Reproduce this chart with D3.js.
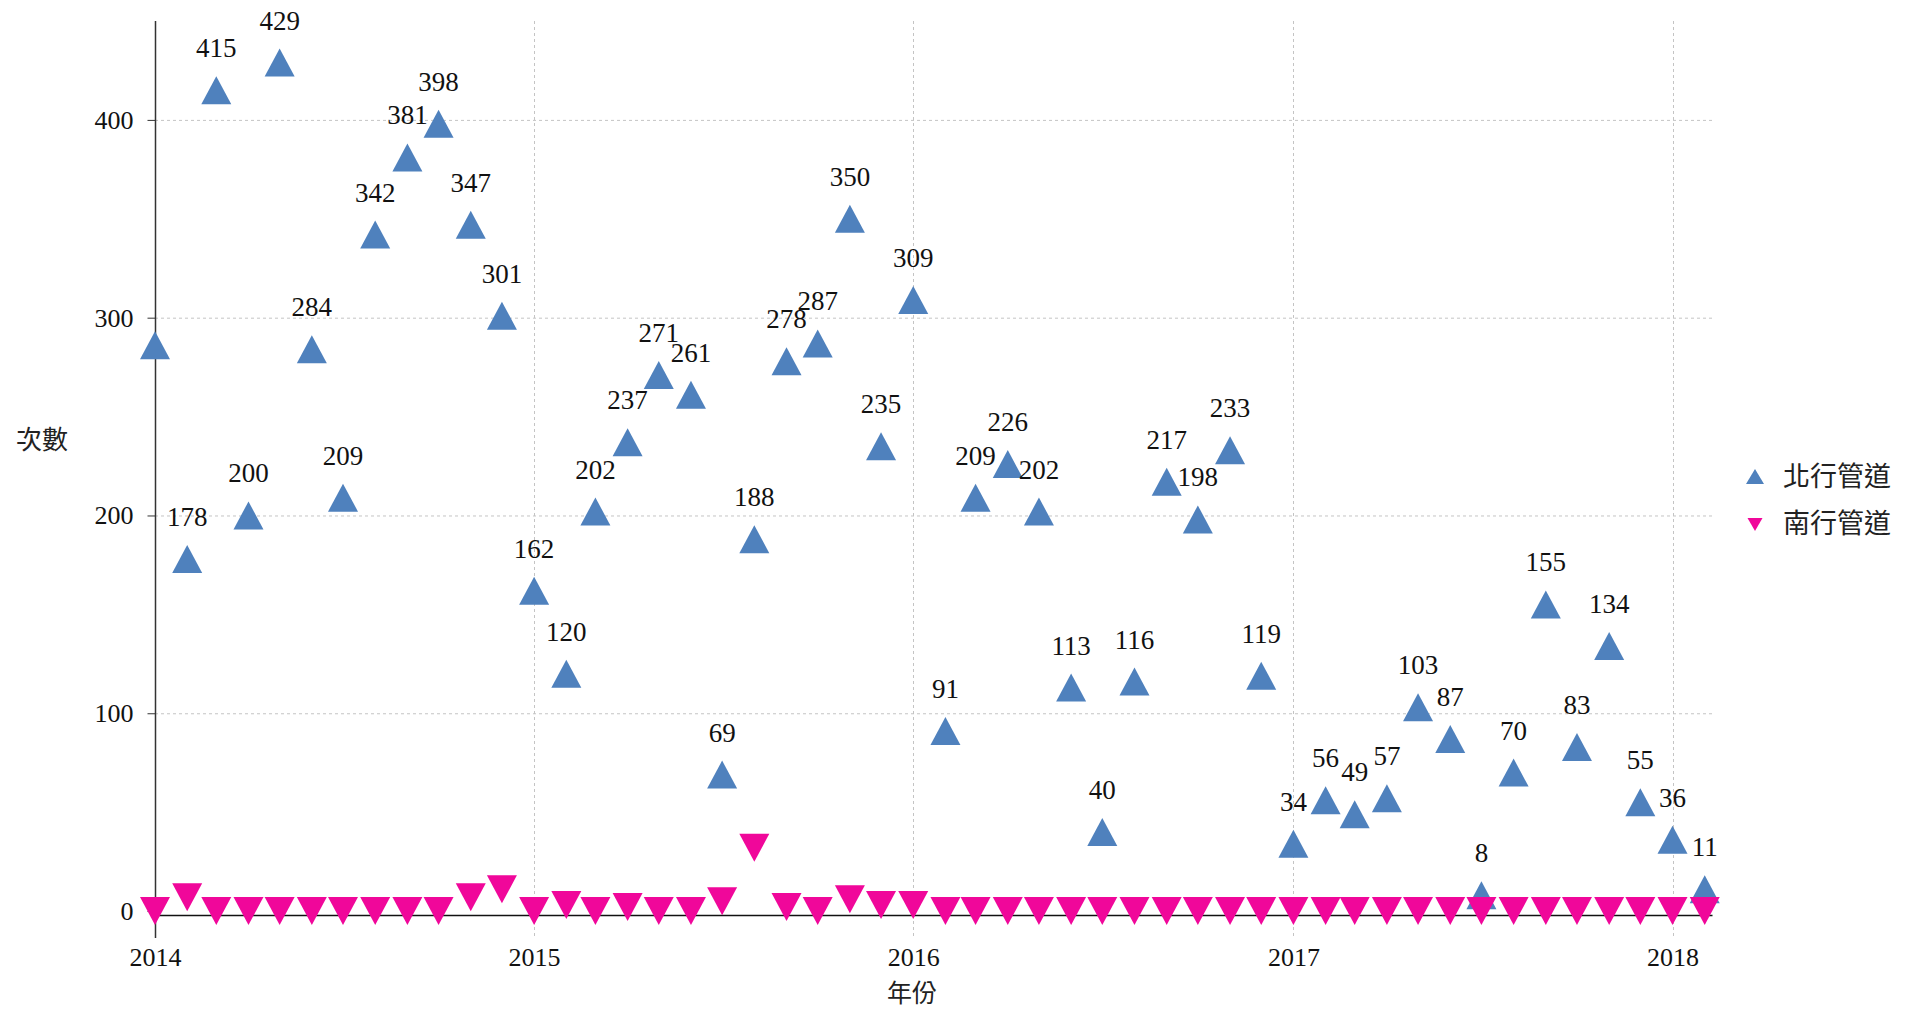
<!DOCTYPE html>
<html>
<head>
<meta charset="utf-8">
<script src="https://cdn.jsdelivr.net/npm/d3@7"></script>
<style>
  body { margin: 0; background: #fff; }
  .grid line { stroke: #c4c4c4; stroke-dasharray: 3,3; }
  .num { font-family: "Liberation Serif", "Times New Roman", serif; fill: #111; }
  .cjk { font-family: "Noto Sans CJK TC", "Noto Sans CJK SC", sans-serif; fill: #222; }
</style>
</head>
<body>
<svg id="chart"></svg>
<script>
// monthly points, 2014-01 .. 2018-02
var startMonth = [2014, 0];
var monthCount = 50;

var northValues = [286, 178, 415, 200, 429, 284, 209, 342, 381, 398, 347, 301,
                   162, 120, 202, 237, 271, 261, 69, 188, 278, 287, 350, 235,
                   309, 91, 209, 226, 202, 113, 40, 116, 217, 198, 233, 119,
                   34, 56, 49, 57, 103, 87, 8, 70, 155, 83, 134, 55,
                   36, 11];
var southValues = [0, 7, 0, 0, 0, 0, 0, 0, 0, 0, 7, 11,
                   0, 3, 0, 2, 0, 0, 5, 32, 2, 0, 6, 3,
                   3, 0, 0, 0, 0, 0, 0, 0, 0, 0, 0, 0,
                   0, 0, 0, 0, 0, 0, 0, 0, 0, 0, 0, 0,
                   0, 0];
var hiddenLabels = [0]; // first label is not shown in the original
var yTicks = [0, 100, 200, 300, 400];
var yearTicks = [2014, 2015, 2016, 2017, 2018];
var seriesNames = ["北行管道", "南行管道"];
var colors = ["#4f81bd", "#f0079a"];

var months = d3.range(monthCount).map(function (i) {
    return new Date(startMonth[0], startMonth[1] + i, 1);
});

var width = 1905, height = 1013;
var svg = d3.select("#chart").attr("width", width).attr("height", height);

var x = d3.scaleTime()
    .domain([new Date(2014, 0, 1), new Date(2018, 1, 8)])
    .range([155, 1712]);
var y = d3.scaleLinear().domain([-2, 450]).range([915, 21]);

var upTri = "M0,-14L15,14L-15,14Z";
var downTri = "M-15,-14L15,-14L0,14Z";

// grid
var grid = svg.append("g").attr("class", "grid");
grid.selectAll(".hg")
    .data(yTicks.filter(function (d) { return d > 0; }))
    .enter().append("line")
    .attr("x1", x.range()[0]).attr("x2", x.range()[1])
    .attr("y1", function (d) { return y(d) + 0.5; })
    .attr("y2", function (d) { return y(d) + 0.5; });
grid.selectAll(".vg")
    .data(yearTicks)
    .enter().append("line")
    .attr("x1", function (d) { return Math.round(x(new Date(d, 0, 1))) + 0.5; })
    .attr("x2", function (d) { return Math.round(x(new Date(d, 0, 1))) + 0.5; })
    .attr("y1", y.range()[1]).attr("y2", 938);

// y axis
var yAxis = svg.append("g")
    .attr("transform", "translate(" + (x.range()[0] + 0.5) + ",0)")
    .call(d3.axisLeft(y).tickValues(yTicks).tickSize(8).tickPadding(14));
yAxis.select(".domain").remove();
yAxis.selectAll(".tick line").attr("stroke", "#333");
yAxis.selectAll("text").attr("class", "num").style("font-size", "26px");
svg.append("line")
    .attr("x1", x.range()[0] + 0.5).attr("x2", x.range()[0] + 0.5)
    .attr("y1", y.range()[1]).attr("y2", 938)
    .attr("stroke", "#333").attr("stroke-width", 1.5);

// x axis
var xAxis = svg.append("g")
    .attr("transform", "translate(0," + y.range()[0] + ")")
    .call(d3.axisBottom(x)
        .tickValues(yearTicks.map(function (d) { return new Date(d, 0, 1); }))
        .tickSize(0).tickPadding(33)
        .tickFormat(d3.timeFormat("%Y")));
xAxis.select(".domain").attr("stroke", "#111").attr("stroke-width", 1.5);
xAxis.selectAll("text").attr("class", "num").style("font-size", "26px");

// series
var north = months.map(function (m, i) { return {date: m, value: northValues[i], i: i}; });
var south = months.map(function (m, i) { return {date: m, value: southValues[i], i: i}; });

svg.selectAll(".north")
    .data(north)
    .enter().append("path")
    .attr("class", "north")
    .attr("d", upTri)
    .attr("fill", colors[0])
    .attr("transform", function (d) {
        return "translate(" + x(d.date) + "," + y(d.value) + ")";
    });

svg.selectAll(".south")
    .data(south)
    .enter().append("path")
    .attr("class", "south")
    .attr("d", downTri)
    .attr("fill", colors[1])
    .attr("transform", function (d) {
        return "translate(" + x(d.date) + "," + y(d.value) + ")";
    });

svg.selectAll(".lbl")
    .data(north.filter(function (d) { return hiddenLabels.indexOf(d.i) < 0; }))
    .enter().append("text")
    .attr("class", "num lbl")
    .attr("x", function (d) { return x(d.date); })
    .attr("y", function (d) { return y(d.value) - 33; })
    .attr("text-anchor", "middle")
    .style("font-size", "27px")
    .text(function (d) { return d.value; });

// axis titles
svg.append("text").attr("class", "cjk")
    .attr("x", 42).attr("y", 440).attr("dy", "0.35em")
    .attr("text-anchor", "middle").style("font-size", "26px")
    .text("次數");
svg.append("text").attr("class", "cjk")
    .attr("x", 912).attr("y", 993).attr("dy", "0.35em")
    .attr("text-anchor", "middle").style("font-size", "25px")
    .text("年份");

// legend
var legend = svg.selectAll(".legend")
    .data(seriesNames)
    .enter().append("g")
    .attr("class", "legend")
    .attr("transform", function (d, i) { return "translate(1755," + (477 + i * 47) + ")"; });
legend.append("path")
    .attr("d", function (d, i) { return i === 0 ? "M0,-8L9,7L-9,7Z" : "M-7.5,-6L7.5,-6L0,7Z"; })
    .attr("fill", function (d, i) { return colors[i]; });
legend.append("text")
    .attr("class", "cjk")
    .attr("x", 28).attr("dy", "0.35em")
    .style("font-size", "27px")
    .text(function (d) { return d; });
</script>
</body>
</html>
